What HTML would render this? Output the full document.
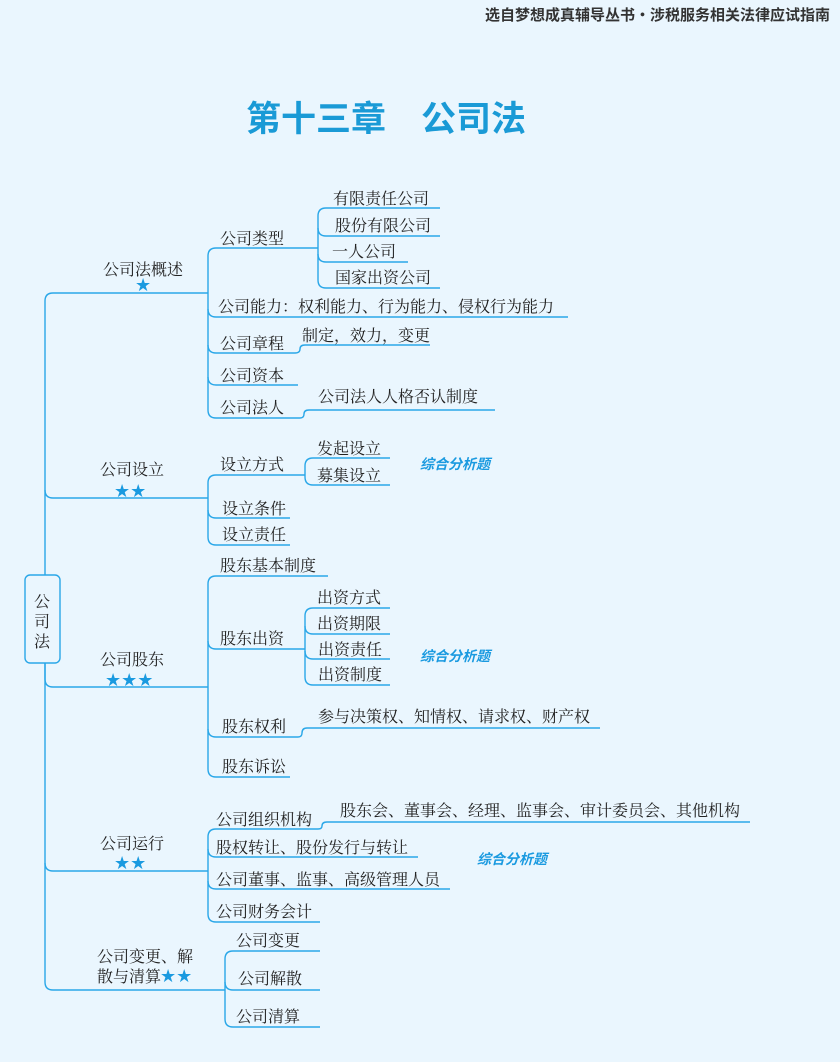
<!DOCTYPE html>
<html><head><meta charset="utf-8"><style>
html,body{margin:0;padding:0;background:#eaf6fe;}
svg{display:block;}
text{font-family:"Noto Serif CJK SC","Noto Sans CJK SC",serif;font-size:16px;fill:#222;}
.s{fill:#1a9ae0;font-size:18px;font-family:"DejaVu Sans",sans-serif;}
.z{fill:#1a9ae0;font-size:14px;font-weight:bold;font-style:italic;font-family:"Noto Sans CJK SC",sans-serif;}
path{fill:none;stroke:#2aa7e8;stroke-width:1.4;}
</style></head><body>
<svg width="840" height="1062" viewBox="0 0 840 1062" xmlns="http://www.w3.org/2000/svg">
<rect width="840" height="1062" fill="#eaf6fe"/>
<text x="830" y="20" text-anchor="end" style="font-family:'Noto Sans CJK SC',sans-serif;font-size:15px;font-weight:bold;fill:#333">选自梦想成真辅导丛书・涉税服务相关法律应试指南</text>
<text x="386" y="131" text-anchor="middle" style="font-family:'Noto Sans CJK SC',sans-serif;font-size:35px;font-weight:bold;fill:#1a9ad6">第十三章　公司法</text>

<path d="M53,293 Q45,293 45,301 L45,982 Q45,990 53,990"/>
<path d="M45,663 L45,679 Q45,687 53,687 L208,687"/>
<path d="M45,490 Q45,498 53,498 L208,498"/>
<path d="M45,863 Q45,871 53,871 L208,871"/>
<path d="M53,293 L208,293"/>
<path d="M53,990 L225,990"/>
<rect x="25" y="575" width="35" height="88" rx="5" fill="#eaf6fe" stroke="#2aa7e8" stroke-width="1.4"/>
<text x="42" y="607" text-anchor="middle">公</text>
<text x="42" y="627" text-anchor="middle">司</text>
<text x="42" y="647" text-anchor="middle">法</text>

<text x="103" y="275">公司法概述</text><text x="135" y="291" class="s">★</text>
<path d="M216,248 Q208,248 208,256 L208,410 Q208,418 216,418"/>
<path d="M208,309 Q208,317 216,317 L568,317"/>
<path d="M208,345 Q208,353 216,353 L295,353 Q300,353 300,349 L300,349 Q300,345 305,345 L430,345"/>
<path d="M208,377 Q208,385 216,385 L298,385"/>
<path d="M216,418 L300,418 Q304,418 304,414 Q304,410 309,410 L495,410"/>
<path d="M216,248 L318,248"/>
<text x="220" y="244">公司类型</text>
<text x="218" y="312">公司能力：权利能力、行为能力、侵权行为能力</text>
<text x="220" y="349">公司章程</text><text x="302" y="341">制定，效力，变更</text>
<text x="220" y="381">公司资本</text>
<text x="220" y="413">公司法人</text><text x="318" y="402">公司法人人格否认制度</text>
<path d="M326,208 Q318,208 318,216 L318,280 Q318,288 326,288 L440,288"/>
<path d="M326,208 L440,208"/>
<path d="M318,228 Q318,236 326,236 L440,236"/>
<path d="M318,254 Q318,262 326,262 L408,262"/>
<text x="333" y="204">有限责任公司</text>
<text x="335" y="231">股份有限公司</text>
<text x="332" y="257">一人公司</text>
<text x="335" y="283">国家出资公司</text>

<text x="100" y="475">公司设立</text><text x="114" y="497" class="s">★★</text>
<path d="M216,475 Q208,475 208,483 L208,537 Q208,545 216,545 L290,545"/>
<path d="M216,475 L305,475"/>
<path d="M208,510 Q208,518 216,518 L290,518"/>
<text x="220" y="470">设立方式</text>
<text x="222" y="514">设立条件</text>
<text x="222" y="540">设立责任</text>
<path d="M313,458 Q305,458 305,466 L305,477 Q305,485 313,485 L390,485"/>
<path d="M313,458 L390,458"/>
<text x="317" y="454">发起设立</text>
<text x="317" y="481">募集设立</text>
<text x="420" y="469" class="z">综合分析题</text>

<text x="100" y="665">公司股东</text><text x="105" y="686" class="s">★★★</text>
<path d="M216,576 Q208,576 208,584 L208,769 Q208,777 216,777 L290,777"/>
<path d="M216,576 L328,576"/>
<path d="M208,641 Q208,649 216,649 L305,649"/>
<path d="M208,729 Q208,737 216,737 L298,737 Q302,737 302,733 Q302,728 307,728 L600,728"/>
<text x="220" y="571">股东基本制度</text>
<text x="220" y="644">股东出资</text>
<text x="222" y="732">股东权利</text>
<text x="222" y="772">股东诉讼</text>
<text x="318" y="722">参与决策权、知情权、请求权、财产权</text>
<path d="M313,608 Q305,608 305,616 L305,677 Q305,685 313,685 L390,685"/>
<path d="M313,608 L390,608"/>
<path d="M305,626 Q305,634 313,634 L390,634"/>
<path d="M305,651 Q305,659 313,659 L390,659"/>
<text x="317" y="603">出资方式</text>
<text x="317" y="629">出资期限</text>
<text x="318" y="655">出资责任</text>
<text x="318" y="680">出资制度</text>
<text x="420" y="661" class="z">综合分析题</text>

<text x="100" y="849">公司运行</text><text x="114" y="869" class="s">★★</text>
<path d="M216,829 Q208,829 208,837 L208,914 Q208,922 216,922 L320,922"/>
<path d="M216,829 L318,829 Q322,829 322,826 Q322,822 327,822 L750,822"/>
<path d="M208,849 Q208,857 216,857 L418,857"/>
<path d="M208,881 Q208,889 216,889 L450,889"/>
<text x="216" y="825">公司组织机构</text>
<text x="340" y="816">股东会、董事会、经理、监事会、审计委员会、其他机构</text>
<text x="216" y="853">股权转让、股份发行与转让</text>
<text x="216" y="885">公司董事、监事、高级管理人员</text>
<text x="216" y="917">公司财务会计</text>
<text x="477" y="864" class="z">综合分析题</text>

<text x="97" y="962">公司变更、解</text>
<text x="97" y="982">散与清算</text><text x="160" y="982" class="s">★★</text>
<path d="M233,951 Q225,951 225,959 L225,1019 Q225,1027 233,1027 L320,1027"/>
<path d="M233,951 L320,951"/>
<path d="M225,982 Q225,990 233,990 L320,990"/>
<text x="236" y="946">公司变更</text>
<text x="238" y="984">公司解散</text>
<text x="236" y="1022">公司清算</text>
</svg>
</body></html>
